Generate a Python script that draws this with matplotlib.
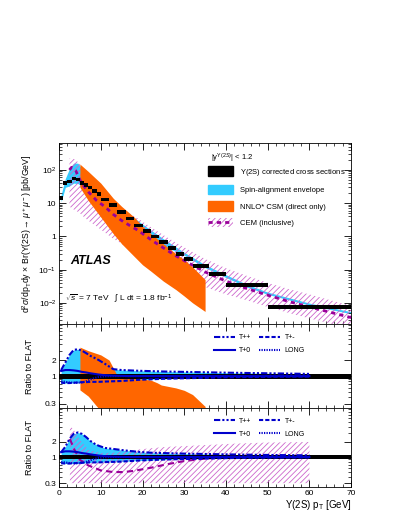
import numpy as np
import matplotlib
matplotlib.use('Agg')
import matplotlib.pyplot as plt
from matplotlib.patches import Patch
from matplotlib.lines import Line2D
from matplotlib.ticker import LogLocator, MultipleLocator, NullFormatter

plt.rcParams['font.family'] = ['Liberation Sans', 'DejaVu Sans']
plt.rcParams['mathtext.fontset'] = 'custom'
plt.rcParams['mathtext.rm'] = 'Liberation Sans'
plt.rcParams['mathtext.it'] = 'Liberation Sans:italic'
plt.rcParams['mathtext.bf'] = 'Liberation Sans:bold'
plt.rcParams['hatch.linewidth'] = 0.6

# measured cross sections, pT bins [GeV]
bin_lo = [0, 1, 2, 3, 4, 5, 6, 7, 8, 9, 10, 12, 14, 16, 18, 20, 22, 24, 26, 28, 30, 32, 36, 40, 50]
bin_hi = [1, 2, 3, 4, 5, 6, 7, 8, 9, 10, 12, 14, 16, 18, 20, 22, 24, 26, 28, 30, 32, 36, 40, 50, 70]
xsec = [14.5, 40, 45, 56, 52, 41, 35, 30, 23.5, 19.5, 13, 8.7, 5.5, 3.5, 2.15, 1.5, 1.0,
        0.68, 0.45, 0.30, 0.21, 0.13, 0.074, 0.034, 0.0076]

# spin-alignment envelope (absolute)
env_pt = [0.5, 1.5, 2.5, 3.5, 4.5, 5.5, 7, 9, 11, 13, 15, 17, 19, 21, 25, 30, 35, 40, 45, 50, 60, 70]
env_hi = [18, 55, 110, 160, 160, 110, 60, 35, 20, 12, 7.3, 4.6, 2.9, 1.9, 0.85, 0.33, 0.14, 0.07,
          0.036, 0.021, 0.0098, 0.0054]
env_lo = [11, 30, 33, 40, 39, 32, 23, 16, 10.5, 6.8, 4.4, 2.8, 1.8, 1.15, 0.52, 0.27, 0.115, 0.058,
          0.03, 0.018, 0.0085, 0.0047]

# NNLO* CSM band
csm_pt = [5, 7, 10, 13, 15, 18, 20, 22, 25, 28, 30, 32, 35]
csm_hi = [150, 90, 40, 14, 8, 3.8, 2.0, 1.2, 0.6, 0.3, 0.2, 0.12, 0.05]
csm_lo = [30, 12, 3.8, 1.2, 0.6, 0.25, 0.14, 0.09, 0.045, 0.025, 0.016, 0.01, 0.0055]

# CEM band and central curve
cem_pt = [2.5, 3, 4, 5, 6, 7, 9, 11, 13, 15, 17, 19, 22, 25, 28, 31, 35, 40, 45, 50, 55, 60, 65, 70]
cem_c = [100, 120, 95, 50, 32, 22, 12, 7.8, 4.6, 3.0, 2.1, 1.5, 0.8, 0.45, 0.26, 0.16, 0.085,
         0.045, 0.027, 0.017, 0.011, 0.0075, 0.0052, 0.0036]
cem_hi = [220, 230, 200, 150, 90, 60, 30, 18, 11, 7, 4.8, 3.4, 1.9, 1.1, 0.65, 0.4, 0.21, 0.11,
          0.065, 0.04, 0.026, 0.018, 0.012, 0.0082]
cem_lo = [8, 7, 6, 5, 3.8, 3, 2, 1.3, 0.85, 0.6, 0.42, 0.3, 0.17, 0.1, 0.065, 0.045, 0.03, 0.018,
          0.012, 0.0075, 0.005, 0.0034, 0.0024, 0.0017]

# ratio panels: spin-alignment scenarios / FLAT
r_pt = [0.5, 1.5, 2.5, 3.5, 4.5, 5.5, 6.5, 7.5, 8.5, 9.5, 11, 13, 15, 17, 19, 22, 25, 30, 35, 40, 50, 60]
tpp_mid = [1.3, 1.8, 2.5, 3.1, 3.2, 3.0, 2.7, 2.4, 2.2, 2.0, 1.7, 1.35, 1.3, 1.28, 1.26, 1.24, 1.22,
           1.2, 1.18, 1.16, 1.13, 1.1]
tpp_bot = [1.25, 1.6, 2.3, 2.9, 3.1, 2.9, 2.5, 2.1, 1.85, 1.68, 1.52, 1.45, 1.38, 1.32, 1.27, 1.22,
           1.2, 1.17, 1.15, 1.13, 1.1, 1.08]
tpm = [0.75, 0.74, 0.74, 0.75, 0.76, 0.77, 0.77, 0.78, 0.78, 0.78, 0.79, 0.8, 0.81, 0.83, 0.85,
       0.87, 0.89, 0.91, 0.93, 0.95, 0.97, 0.98]
tp0 = [1.25, 1.3, 1.3, 1.28, 1.25, 1.2, 1.17, 1.13, 1.1, 1.07, 1.04, 1.02, 1.01, 1.0, 1.0, 1.0,
       1.0, 1.0, 1.0, 1.0, 1.0, 1.0]
tlong = [0.8, 0.78, 0.76, 0.75, 0.75, 0.76, 0.8, 0.86, 0.92, 0.96, 0.99, 1.0, 1.0, 1.0, 1.0, 1.0,
         1.0, 1.0, 1.0, 1.0, 1.0, 1.0]

# NNLO* / data ratio band
rcsm_pt = [5, 7, 10, 12, 14, 16, 20, 22, 23.5, 24.5, 28, 30, 32, 35]
rcsm_hi = [3.5, 3.0, 2.5, 2.0, 1.0, 0.92, 0.88, 0.84, 0.75, 0.68, 0.6, 0.54, 0.45, 0.27]
rcsm_lo = [0.55, 0.42, 0.22, 0.2, 0.2, 0.2, 0.2, 0.2, 0.2, 0.2, 0.2, 0.2, 0.2, 0.2]

# CEM / data ratio
rcem_pt = [2.6, 3.5, 5, 7, 10, 13, 15.5, 18, 22, 26, 30, 34, 38, 42, 50, 60]
rcem_c = [2.3, 1.5, 0.88, 0.68, 0.54, 0.5, 0.5, 0.53, 0.61, 0.72, 0.83, 0.91, 0.97, 1.0, 1.0, 1.0]
rcem_hi = [4.3, 3.5, 2.2, 1.4, 1.2, 1.22, 1.3, 1.38, 1.5, 1.6, 1.65, 1.72, 1.78, 1.85, 1.95, 2.0]
rcem_lo = [0.3] * 16

CYAN = '#33ccff'
ORANGE = '#ff6600'
HATCH = '#cc66cc'
PURPLE = '#990099'
BLUE = '#0000cc'

fig = plt.figure(figsize=(3.99, 5.16), dpi=100)
ax = fig.add_axes([0.148, 0.372, 0.732, 0.351])
ax2 = fig.add_axes([0.148, 0.209, 0.732, 0.163], sharex=ax)
ax3 = fig.add_axes([0.148, 0.056, 0.732, 0.153], sharex=ax)

lo = np.array(bin_lo, float)
hi = np.array(bin_hi, float)
cen = (lo + hi) / 2
wid = hi - lo
xs = np.array(xsec)

# main panel
ax.fill_between(env_pt, env_lo, env_hi, color=CYAN, lw=0, zorder=1)
ax.fill_between(cem_pt, cem_lo, cem_hi, facecolor='none', edgecolor=HATCH, hatch='//////', lw=0, zorder=2)
ax.fill_between(csm_pt, csm_lo, csm_hi, color=ORANGE, lw=0, zorder=3)
ax.plot(cem_pt, cem_c, color=PURPLE, lw=2, ls=(0, (1.5, 1.5)), zorder=4)
ax.bar(cen, xs * 0.26, bottom=xs * 0.87, width=wid, color='black', lw=0, zorder=5)
ax.set_yscale('log')
ax.set_ylim(2.3e-3, 650)
ax.set_xlim(0, 70)
ax.set_yticks([1e-2, 1e-1, 1, 10, 100], labels=['$10^{-2}$', '$10^{-1}$', '1', '10', '$10^{2}$'])
ax.yaxis.set_minor_locator(LogLocator(base=10, subs=np.arange(2, 10)))
ax.yaxis.set_minor_formatter(NullFormatter())

ax.text(0.04, 0.33, 'ATLAS', transform=ax.transAxes, fontsize=9, fontweight='bold', style='italic')
ax.text(0.02, 0.13, r'$\sqrt{s}$ = 7 TeV   $\int$ L dt = 1.8 fb$^{-1}$', transform=ax.transAxes, fontsize=6)
ax.text(0.52, 0.917, r'|y$^{\Upsilon(2S)}$| < 1.2', transform=ax.transAxes, fontsize=5.5, va='center')

h_data = Patch(facecolor='black', edgecolor='black')
h_env = Patch(facecolor=CYAN, edgecolor=CYAN)
h_csm = Patch(facecolor=ORANGE, edgecolor=ORANGE)
h_cem = (Patch(facecolor='none', edgecolor=HATCH, hatch='//////', lw=0),
         Line2D([], [], color=PURPLE, lw=2, ls=(0, (1.5, 1.5))))
ax.legend([h_data, h_env, h_csm, h_cem],
          [r'$\Upsilon$(2S) corrected cross sections', 'Spin-alignment envelope',
           'NNLO* CSM (direct only)', 'CEM (inclusive)'],
          loc='upper left', bbox_to_anchor=(0.51, 0.87), frameon=False, fontsize=5.5,
          handlelength=3.3, handleheight=1.5, handletextpad=0.9, labelspacing=0.95,
          borderaxespad=0, borderpad=0)


def ratio_panel(a, tpp):
    env_top = np.maximum.reduce([tpp, tpm, tp0, tlong])
    env_bot = np.minimum.reduce([tpp, tpm, tp0, tlong])
    a.fill_between(r_pt, env_bot, env_top, color=CYAN, lw=0, zorder=1)
    a.bar(cen, 0.2, bottom=0.9, width=wid, color='black', lw=0, zorder=5)
    l1, = a.plot(r_pt, tpp, color=BLUE, lw=1.5, ls=(0, (3, 1, 1, 1, 1, 1)), zorder=6)
    l2, = a.plot(r_pt, tp0, color=BLUE, lw=1.5, ls='-', zorder=6)
    l3, = a.plot(r_pt, tpm, color=BLUE, lw=1.5, ls=(0, (2, 1)), zorder=6)
    l4, = a.plot(r_pt, tlong, color=BLUE, lw=1.5, ls=(0, (0.6, 0.6)), zorder=6)
    a.legend([l1, l2, l3, l4], ['T++', 'T+0', 'T+-', 'LONG'], ncol=2, loc='upper left',
             bbox_to_anchor=(0.53, 0.88), frameon=False, fontsize=5, handlelength=3,
             handletextpad=0.6, columnspacing=1.2, labelspacing=0.9, borderaxespad=0, borderpad=0)
    a.set_yscale('log')
    a.set_ylim(0.25, 9.5)
    a.set_yticks([0.3, 1, 2], labels=['0.3', '1', '2'])
    a.yaxis.set_minor_locator(LogLocator(base=10, subs=np.arange(1, 10)))
    a.yaxis.set_minor_formatter(NullFormatter())
    a.set_ylabel('Ratio to FLAT', fontsize=6.5)


ratio_panel(ax2, tpp_mid)
ax2.fill_between(rcsm_pt, rcsm_lo, rcsm_hi, color=ORANGE, lw=0, zorder=3)

ratio_panel(ax3, tpp_bot)
ax3.fill_between(rcem_pt, rcem_lo, rcem_hi, facecolor='none', edgecolor=HATCH, hatch='//////', lw=0, zorder=2)
ax3.plot(rcem_pt, rcem_c, color=PURPLE, lw=1.5, ls=(0, (3, 2)), zorder=4)

for a in (ax, ax2, ax3):
    a.xaxis.set_major_locator(MultipleLocator(10))
    a.xaxis.set_minor_locator(MultipleLocator(2))
    a.tick_params(which='both', direction='in', top=True, right=True, labelsize=6, pad=2)
    a.tick_params(which='major', length=5, width=0.6)
    a.tick_params(which='minor', length=2.5, width=0.5)
    for s in a.spines.values():
        s.set_linewidth(0.6)
for a in (ax, ax2):
    a.tick_params(labelbottom=False)

ax3.set_xlabel(r'$\Upsilon$(2S) p$_{\mathrm{T}}$ [GeV]', fontsize=7, loc='right', labelpad=1)
ax.set_ylabel(r'd$^2\sigma$/dp$_\mathrm{T}$dy $\times$ Br($\Upsilon$(2S)$\rightarrow\mu^+\mu^-$) [pb/GeV]',
              fontsize=6.3)
ax.yaxis.set_label_coords(-0.085, 0.5)
ax2.yaxis.set_label_coords(-0.085, 0.5)
ax3.yaxis.set_label_coords(-0.085, 0.5)

fig.savefig('out.png', dpi=100)
